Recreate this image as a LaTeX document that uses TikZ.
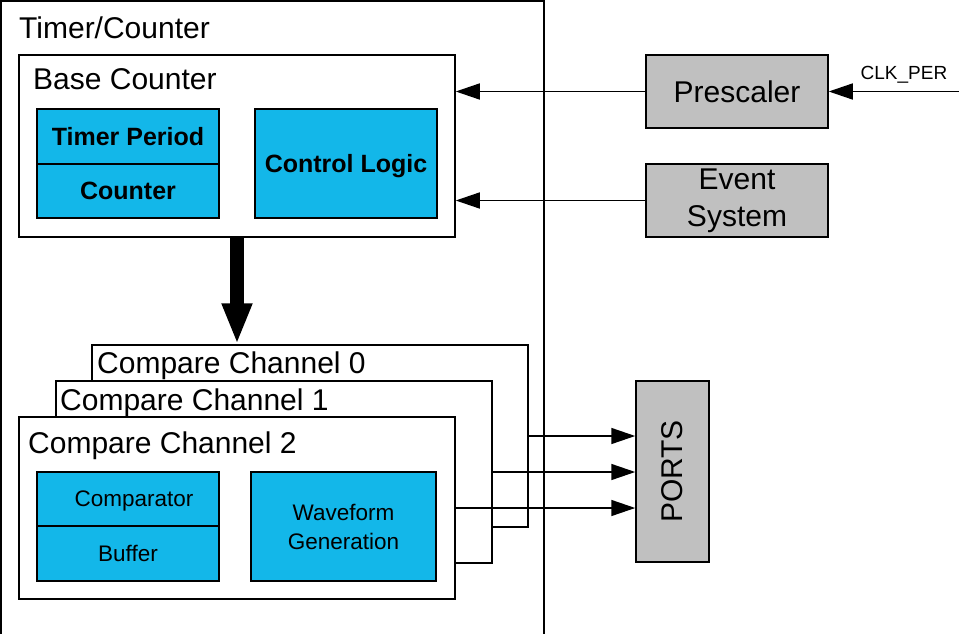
\documentclass[tikz,border=0pt]{standalone}
\usepackage{fontspec}
\setmainfont{Liberation Sans}
\usetikzlibrary{arrows.meta}
\definecolor{cellblue}{RGB}{19,183,233}
\definecolor{blockgray}{RGB}{192,192,192}

\begin{document}
\begin{tikzpicture}[x=1pt,y=-1pt,
	box/.style 2 args={draw,line width=1.5pt,inner sep=0pt,minimum width=#1,minimum height=#2},
	cell/.style 2 args={box={#1}{#2},fill=cellblue,text depth=0pt},
	block/.style 2 args={box={#1}{#2},fill=blockgray},
	title/.style={anchor=base west,inner sep=0pt,font=\fontsize{30}{36}\selectfont},
	arr/.style={line width=1.5pt,-{Triangle[length=24pt,width=16pt]}},
	bigarr/.style={line width=14pt,-{Triangle[length=41pt,width=28pt]}}]
			\useasboundingbox (0,0) rectangle (959,634);
			% Timer/Counter frame, open at the bottom
			\draw [line width=1.5pt] (1,660) |- (544,1) -- (544,660);
			\node [title] (tc) at (19,39) {Timer/Counter};
			% base counter
			\node [box={436pt}{182pt}] (base) at (237,146) {};
			\node [title] (basettl) at (33,89) {Base Counter};
			\node [cell={182pt}{55pt},font=\fontsize{25}{30}\selectfont\bfseries] (per) at (128,136.5) {Timer Period};
			\node [cell={182pt}{54pt},font=\fontsize{25}{30}\selectfont\bfseries] (cnt) at (128,191) {Counter};
			\node [cell={182pt}{109pt},font=\fontsize{25}{30}\selectfont\bfseries] (ctrl) at (346,163.5) {Control Logic};
			% compare channels
			\node [box={436pt}{182pt},fill=white] (cc0) at (310,436) {};
			\node [title] (cc0ttl) at (97,373) {Compare Channel 0};
			\node [box={436pt}{182pt},fill=white] (cc1) at (274,472) {};
			\node [title] (cc1ttl) at (60,410) {Compare Channel 1};
			\node [box={436pt}{182pt},fill=white] (cc2) at (237,508) {};
			\node [title] (cc2ttl) at (28,453) {Compare Channel 2};
			\node [cell={182pt}{54pt},font=\fontsize{22.5}{29}\selectfont] (comp) at (128,499) {\hspace{12pt}Comparator};
			\node [cell={182pt}{55pt},font=\fontsize{22.5}{29}\selectfont] (buf) at (128,553.5) {Buffer\hspace{10pt}};
			\node [box={185pt}{109pt},fill=cellblue,align=center,font=\fontsize{22.5}{29}\selectfont] (wave) at (343.5,526.5) {Waveform\\Generation};
			% outside blocks
			\node [block={182pt}{73pt},font=\fontsize{30}{36}\selectfont] (pre) at (737,91.5) {Prescaler};
			\node [block={182pt}{73pt},align=center,font=\fontsize{30}{37}\selectfont] (evt) at (737,200.5) {Event\\System};
			\node [block={73pt}{181pt},font=\fontsize{30}{36}\selectfont] (ports) at (672.5,471.5) {\rotatebox{90}{PORTS}};
			\coordinate (clk) at (959,91.5);
			\node [font=\fontsize{19}{23}\selectfont] (clkttl) at (904,75) {CLK\_PER};
			% connections
			\draw [arr] (clk) -- (pre.east);
			\draw [arr] (pre.west) -- (pre.west -| base.east);
			\draw [arr] (evt.west) -- (evt.west -| base.east);
			\draw [bigarr] (base.south) -- (base.south |- cc0.north);
			\coordinate (p0) at (ports.west |- 0,436);
			\coordinate (p1) at (ports.west |- 0,472);
			\coordinate (p2) at (ports.west |- 0,508);
			\draw [arr] (cc0.east |- p0) -- (p0);
			\draw [arr] (cc1.east |- p1) -- (p1);
			\draw [arr] (cc2.east |- p2) -- (p2);
			\end{tikzpicture}
\end{document}
